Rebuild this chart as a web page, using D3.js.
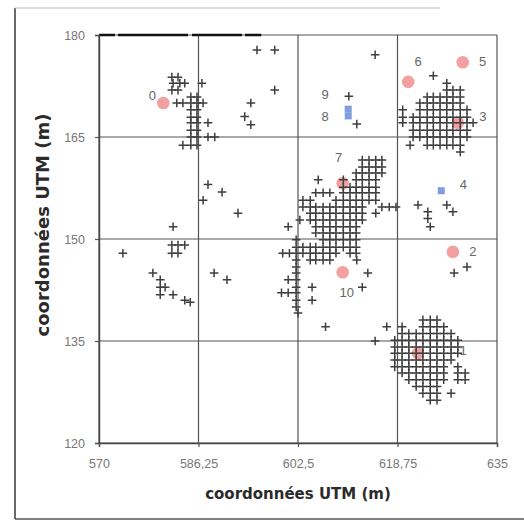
<!DOCTYPE html>
<html>
<head>
<meta charset="utf-8">
<script src="https://cdn.jsdelivr.net/npm/d3@7"></script>
<style>
  html, body { margin: 0; padding: 0; background: #fff; }
  svg { display: block; }
</style>
</head>
<body>
<svg id="chart" width="524" height="523"></svg>
<script>
// ---- axis ticks and titles ----
const xTicks = [570, 586.25, 602.5, 618.75, 635];
const yTicks = [120, 135, 150, 165, 180];
const xTitle = "coordonnées UTM (m)";
const yTitle = "coordonnées UTM (m)";

// ---- sampled stations (crosses), by northing row: [y, [x, ...]] ----
const westRows = [
  [173.8, [581.9, 582.9]],
  [172.9, [582.1, 583.2, 584.0, 586.8]],
  [171.9, [581.9, 582.9]],
  [170.9, [585.0, 586.0]],
  [170.0, [582.7, 583.7, 585.0, 586.0, 587.0]],
  [169.0, [585.0, 586.0]],
  [167.9, [585.0, 586.0]],
  [167.1, [585.0, 586.0, 587.8]],
  [166.0, [585.0, 586.0]],
  [165.0, [585.0, 586.0, 587.8, 588.9]],
  [163.8, [583.7, 585.0, 586.0]]
];

const northEastRows = [
  [174.0, [624.6]],
  [172.9, [626.8]],
  [171.9, [626.8, 627.8, 629.0]],
  [170.9, [623.6, 624.6, 625.7, 626.8, 627.8, 629.0]],
  [170.0, [622.4, 623.6, 624.6, 625.7, 626.8, 627.8, 629.0]],
  [169.0, [619.6, 622.4, 623.6, 624.6, 625.7, 626.8, 627.8, 629.0, 630.1]],
  [167.9, [619.6, 621.3, 622.4, 623.6, 624.6, 625.7, 626.8, 627.8, 629.0, 630.1]],
  [167.1, [619.6, 621.3, 622.4, 623.6, 624.6, 625.7, 626.8, 627.8, 629.0, 630.1, 631.1]],
  [166.0, [621.3, 622.4, 623.6, 624.6, 625.7, 626.8, 627.8, 629.0, 630.1]],
  [165.0, [621.3, 622.4, 623.6, 624.6, 625.7, 626.8, 627.8, 629.0, 630.1]],
  [163.8, [620.8, 623.6, 624.6, 625.7, 626.8, 627.8, 629.0]],
  [162.8, [629.0]]
];

const centralRows = [
  [161.6, [613.0, 614.1, 615.2, 616.2]],
  [160.6, [613.0, 614.1, 615.2, 616.2]],
  [159.7, [612.0, 613.0, 614.1, 615.2, 616.2]],
  [158.7, [605.8, 609.9, 612.0, 613.0, 614.1, 615.2]],
  [157.6, [609.9, 611.0, 612.0, 613.0, 614.1, 615.2]],
  [156.8, [605.4, 606.6, 607.7, 609.9, 611.0, 612.0, 613.0, 614.1, 615.2]],
  [155.7, [603.3, 604.5, 608.7, 609.9, 611.0, 612.0, 613.0, 614.1, 615.2]],
  [154.7, [603.3, 604.5, 605.4, 606.6, 607.7, 608.7, 609.9, 611.0, 612.0, 613.0, 616.2, 617.4, 618.5]],
  [153.8, [604.5, 605.4, 606.6, 607.7, 608.7, 609.9, 611.0, 612.0, 613.0, 615.2]],
  [152.8, [602.8, 604.5, 605.4, 606.6, 607.7, 608.7, 609.9, 611.0, 612.0, 613.0]],
  [151.8, [600.9, 605.4, 606.6, 607.7, 608.7, 609.9, 611.0, 612.0]],
  [150.9, [605.4, 606.6, 607.7, 608.7, 609.9, 611.0, 612.0]],
  [149.9, [602.2, 606.6, 607.7, 608.7, 609.9, 611.0, 612.0]],
  [148.8, [602.2, 603.3, 604.5, 605.4, 606.6, 607.7, 608.7, 609.9, 611.0, 612.0]],
  [147.9, [600.0, 601.1, 602.2, 603.3, 604.5, 605.4, 606.6, 607.7, 608.7, 611.0, 612.0]],
  [146.9, [602.2, 604.5, 605.4, 606.6, 607.7]],
  [145.9, [602.2]],
  [145.0, [602.2]],
  [144.0, [600.9, 602.2]],
  [142.9, [602.2, 604.8]],
  [142.1, [599.8, 600.9, 602.2]],
  [141.0, [602.2, 604.8]],
  [140.0, [602.2]],
  [139.1, [602.5]]
];

const southEastRows = [
  [138.1, [622.9, 624.1, 625.2]],
  [137.1, [619.5, 622.9, 624.1, 625.2, 626.3]],
  [136.1, [619.5, 620.6, 621.8, 622.9, 624.1, 625.2, 626.3, 627.5]],
  [135.1, [618.3, 619.5, 620.6, 621.8, 622.9, 624.1, 625.2, 626.3, 627.5, 628.6]],
  [134.1, [618.3, 619.5, 620.6, 621.8, 622.9, 624.1, 625.2, 626.3, 627.5, 628.6]],
  [133.2, [618.3, 619.5, 620.6, 621.8, 622.9, 624.1, 625.2, 626.3, 627.5, 628.6]],
  [132.2, [618.3, 619.5, 620.6, 621.8, 622.9, 624.1, 625.2, 626.3, 627.5]],
  [131.2, [618.3, 619.5, 620.6, 621.8, 622.9, 624.1, 625.2, 626.3, 628.6]],
  [130.3, [619.5, 620.6, 621.8, 622.9, 624.1, 625.2, 626.3, 628.6, 629.8]],
  [129.3, [620.6, 621.8, 622.9, 624.1, 625.2, 626.3, 628.6, 629.8]],
  [128.3, [621.8, 622.9, 624.1, 625.2]],
  [127.3, [622.9, 624.1, 625.2, 627.5]],
  [126.3, [624.1, 625.2]]
];

// isolated stations: [x, y]
const scattered = [
  [595.8, 177.8], [598.7, 177.8], [598.7, 171.9], [594.8, 170.0], [593.8, 168.0], [594.8, 166.8],
  [587.8, 158.0], [590.1, 156.9], [587.0, 155.7], [592.7, 153.8], [582.1, 151.8],
  [581.9, 149.1], [582.9, 149.1], [584.0, 149.1], [581.9, 147.9], [582.9, 147.9],
  [573.9, 147.9], [578.8, 145.0], [580.0, 144.0], [580.0, 142.9], [580.8, 142.9],
  [580.0, 141.8], [582.1, 141.8], [584.0, 141.0], [584.9, 140.7],
  [588.8, 145.0], [590.9, 144.0],
  [615.1, 177.1], [610.8, 171.0], [612.1, 166.9],
  [622.1, 155.0], [623.7, 154.0], [623.7, 153.0], [624.1, 151.8], [626.8, 155.0], [627.8, 154.0],
  [630.1, 145.9], [628.0, 145.0],
  [612.1, 146.9], [613.9, 145.0], [613.0, 142.9], [607.0, 137.1],
  [617.0, 137.1], [615.1, 135.0]
];

// ---- numbered sites ----
const siteIds  = [0, 1, 2, 3, 4, 5, 6, 7, 8, 9, 10];
const siteX    = [580.5, 622.1, 627.8, 628.6, 625.9, 629.4, 620.5, 609.8, 610.7, 610.7, 609.8];
const siteY    = [170.0, 133.2, 148.1, 167.1, 157.1, 176.0, 173.1, 158.2, 168.1, 169.1, 145.1];
const siteKind = ["circle", "circle", "circle", "circle", "square", "circle",
                  "circle", "circle", "square", "square", "circle"];

// label placement around each site marker (pixels)
const labelOffset = {
  0: [-11, -8], 1: [45, -3], 2: [20, 0], 3: [25, -6], 4: [22, -6], 5: [20, -1],
  6: [10, -20], 7: [-4, -26], 8: [-23, 1], 9: [-23, -15], 10: [4, 20]
};

// ---- build ----
const svg = d3.select("#chart");
const x = d3.scaleLinear().domain([570, 635]).range([99, 497]);
const y = d3.scaleLinear().domain([120, 180]).range([443, 35]);
const fmt = d => String(d).replace(".", ",");

// page frame
const frame = svg.append("g").attr("fill", "none");
frame.append("line").attr("x1", 15).attr("x2", 15).attr("y1", 8).attr("y2", 519)
  .attr("stroke", "#444").attr("stroke-width", 1.6);
frame.append("line").attr("x1", 15).attr("x2", 524).attr("y1", 519).attr("y2", 519)
  .attr("stroke", "#555").attr("stroke-width", 1.4);
frame.append("line").attr("x1", 15).attr("x2", 440).attr("y1", 8).attr("y2", 8)
  .attr("stroke", "#bbb").attr("stroke-width", 1);

// grid
const grid = svg.append("g").attr("stroke", "#555").attr("stroke-width", 1.2);
grid.selectAll(".gv").data(xTicks).join("line").attr("class", "gv")
  .attr("x1", d => x(d)).attr("x2", d => x(d))
  .attr("y1", y(120)).attr("y2", y(180));
grid.selectAll(".gh").data(yTicks).join("line").attr("class", "gh")
  .attr("x1", x(570)).attr("x2", x(635))
  .attr("y1", d => y(d)).attr("y2", d => y(d));
// heavier top edge on the left part
svg.append("line")
  .attr("x1", x(570)).attr("x2", x(596.5))
  .attr("y1", y(180)).attr("y2", y(180))
  .attr("stroke", "#111").attr("stroke-width", 2.6)
  .attr("stroke-dasharray", "16,3,70,4,50,3,22");

// axes
const gx = svg.append("g").attr("transform", `translate(0,${y(120)})`)
  .call(d3.axisBottom(x).tickValues(xTicks).tickFormat(fmt).tickSize(4).tickPadding(12));
const gy = svg.append("g").attr("transform", `translate(${x(570)},0)`)
  .call(d3.axisLeft(y).tickValues(yTicks).tickFormat(fmt).tickSize(4).tickPadding(10));
[gx, gy].forEach(g => {
  g.select(".domain").attr("stroke", "#444").attr("stroke-width", 1.4);
  g.selectAll(".tick line").attr("stroke", "#555").attr("stroke-width", 1.2);
  g.selectAll(".tick text").attr("fill", "#777")
    .style("font-family", "'Liberation Sans', Arial, sans-serif").style("font-size", "12.5px");
});

// site circles under the crosses
const sites = siteIds.map((id, i) => ({ id, x: siteX[i], y: siteY[i], kind: siteKind[i] }));
svg.append("g").selectAll("circle")
  .data(sites.filter(s => s.kind === "circle")).join("circle")
  .attr("cx", d => x(d.x)).attr("cy", d => y(d.y)).attr("r", 6.3)
  .attr("fill", "#f2a0a0");

// crosses
const stations = [];
[westRows, northEastRows, centralRows, southEastRows].forEach(rows =>
  rows.forEach(([ry, xs]) => xs.forEach(rx => stations.push([rx, ry]))));
scattered.forEach(p => stations.push(p));

svg.append("g").attr("stroke", "#3e3e3e").attr("stroke-width", 1.5).attr("fill", "none")
  .selectAll("path").data(stations).join("path")
  .attr("d", d => {
    const cx = x(d[0]), cy = y(d[1]);
    return `M${cx - 4.3},${cy}H${cx + 4.3}M${cx},${cy - 4.3}V${cy + 4.3}`;
  });

// site squares
svg.append("g").selectAll("rect")
  .data(sites.filter(s => s.kind === "square")).join("rect")
  .attr("x", d => x(d.x) - 3.5).attr("y", d => y(d.y) - 3.5)
  .attr("width", 7).attr("height", 7)
  .attr("fill", "#7f9edb");

// site labels
svg.append("g").selectAll("text").data(sites).join("text")
  .attr("x", d => x(d.x) + labelOffset[d.id][0])
  .attr("y", d => y(d.y) + labelOffset[d.id][1])
  .attr("text-anchor", "middle").attr("dominant-baseline", "central")
  .attr("fill", "#666")
  .style("font-family", "'Liberation Sans', Arial, sans-serif").style("font-size", "13px")
  .text(d => d.id);

// axis titles
svg.append("text")
  .attr("x", 298).attr("y", 499)
  .attr("text-anchor", "middle").attr("fill", "#2b2b2b")
  .style("font-family", "'DejaVu Sans', Verdana, sans-serif").style("font-weight", "bold").style("font-size", "15px")
  .text(xTitle);
svg.append("text")
  .attr("transform", "translate(49,225) rotate(-90)")
  .attr("text-anchor", "middle").attr("fill", "#2b2b2b")
  .style("font-family", "'DejaVu Sans', Verdana, sans-serif").style("font-weight", "bold").style("font-size", "18px")
  .text(yTitle);
</script>
</body>
</html>
